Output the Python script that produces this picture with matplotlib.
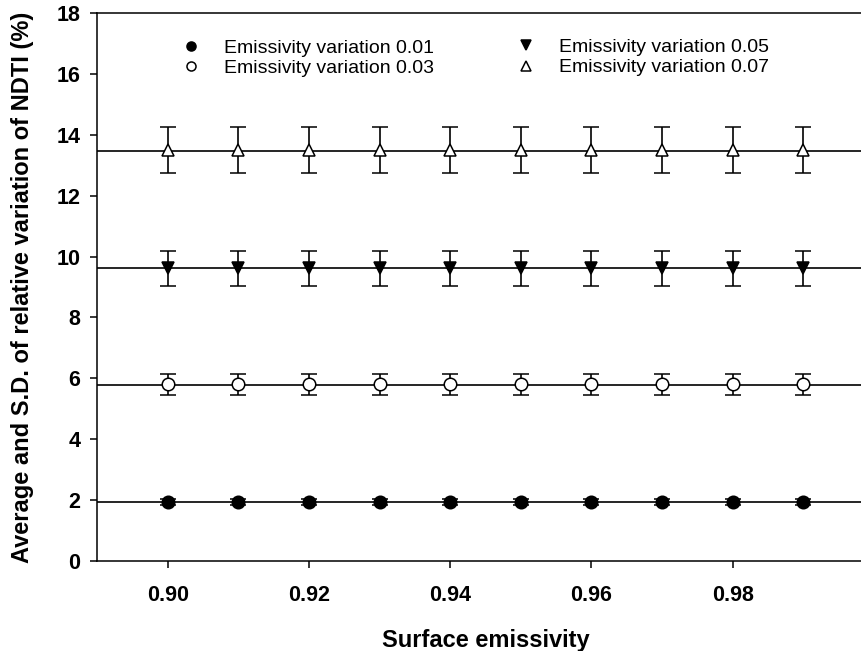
import matplotlib.pyplot as plt
from matplotlib.lines import Line2D

plt.rcParams['font.family'] = ['Liberation Sans', 'DejaVu Sans']

emissivity = [0.90, 0.91, 0.92, 0.93, 0.94, 0.95, 0.96, 0.97, 0.98, 0.99]

avg_001 = [1.95] * 10
sd_001 = [0.10] * 10
avg_003 = [5.80] * 10
sd_003 = [0.35] * 10
avg_005 = [9.62] * 10
sd_005 = [0.57] * 10
avg_007 = [13.50] * 10
sd_007 = [0.75] * 10

line_levels = [1.93, 5.77, 9.63, 13.48]

fig = plt.figure(figsize=(8.61, 6.51), dpi=100)
ax = fig.add_axes([0.1127, 0.1382, 0.9024, 0.8418])

for y in line_levels:
    ax.axhline(y, color='black', lw=1.2, zorder=1)

kw = dict(ls='none', ecolor='black', elinewidth=1.2, capsize=6, capthick=1.2,
          markersize=9, markeredgecolor='black', markeredgewidth=1.1, zorder=3)
ax.errorbar(emissivity, avg_001, yerr=sd_001, fmt='o', color='black', **kw)
ax.errorbar(emissivity, avg_003, yerr=sd_003, fmt='o', markerfacecolor='white', color='black', **kw)
ax.errorbar(emissivity, avg_005, yerr=sd_005, fmt='v', color='black', **kw)
ax.errorbar(emissivity, avg_007, yerr=sd_007, fmt='^', markerfacecolor='white', color='black', **kw)

ax.set_xlim(0.89, 1.00)
ax.set_ylim(0, 18)
ax.set_xticks([0.90, 0.92, 0.94, 0.96, 0.98])
ax.set_xticklabels(['0.90', '0.92', '0.94', '0.96', '0.98'])
ax.set_yticks(range(0, 19, 2))
ax.tick_params(direction='out', length=5, width=1.1, labelsize=15.5)
ax.tick_params(axis='x', pad=12)
ax.tick_params(axis='y', pad=7)
for lab in ax.get_xticklabels() + ax.get_yticklabels():
    lab.set_fontweight('bold')
for s in ax.spines.values():
    s.set_linewidth(1.1)

ax.set_xlabel('Surface emissivity', fontsize=17, fontweight='bold', labelpad=17)
ax.set_ylabel('Average and S.D. of relative variation of NDTI (%)', fontsize=17, fontweight='bold', labelpad=16)

def mk(marker, face):
    return Line2D([], [], ls='none', marker=marker, markersize=6.5, color='black',
                  markerfacecolor=face, markeredgecolor='black', markeredgewidth=1.1)

leg_kw = dict(frameon=False, fontsize=14, loc='upper left', handletextpad=1.2,
              handlelength=1.0, labelspacing=0.15, borderaxespad=0, borderpad=0)
leg1 = ax.legend([mk('o', 'black'), mk('o', 'white')],
                 ['Emissivity variation 0.01', 'Emissivity variation 0.03'],
                 bbox_to_anchor=(0.108, 0.9525), **leg_kw)
ax.add_artist(leg1)
ax.legend([mk('v', 'black'), mk('^', 'white')],
          ['Emissivity variation 0.05', 'Emissivity variation 0.07'],
          bbox_to_anchor=(0.539, 0.954), **leg_kw)

fig.savefig('out.png', dpi=100)
